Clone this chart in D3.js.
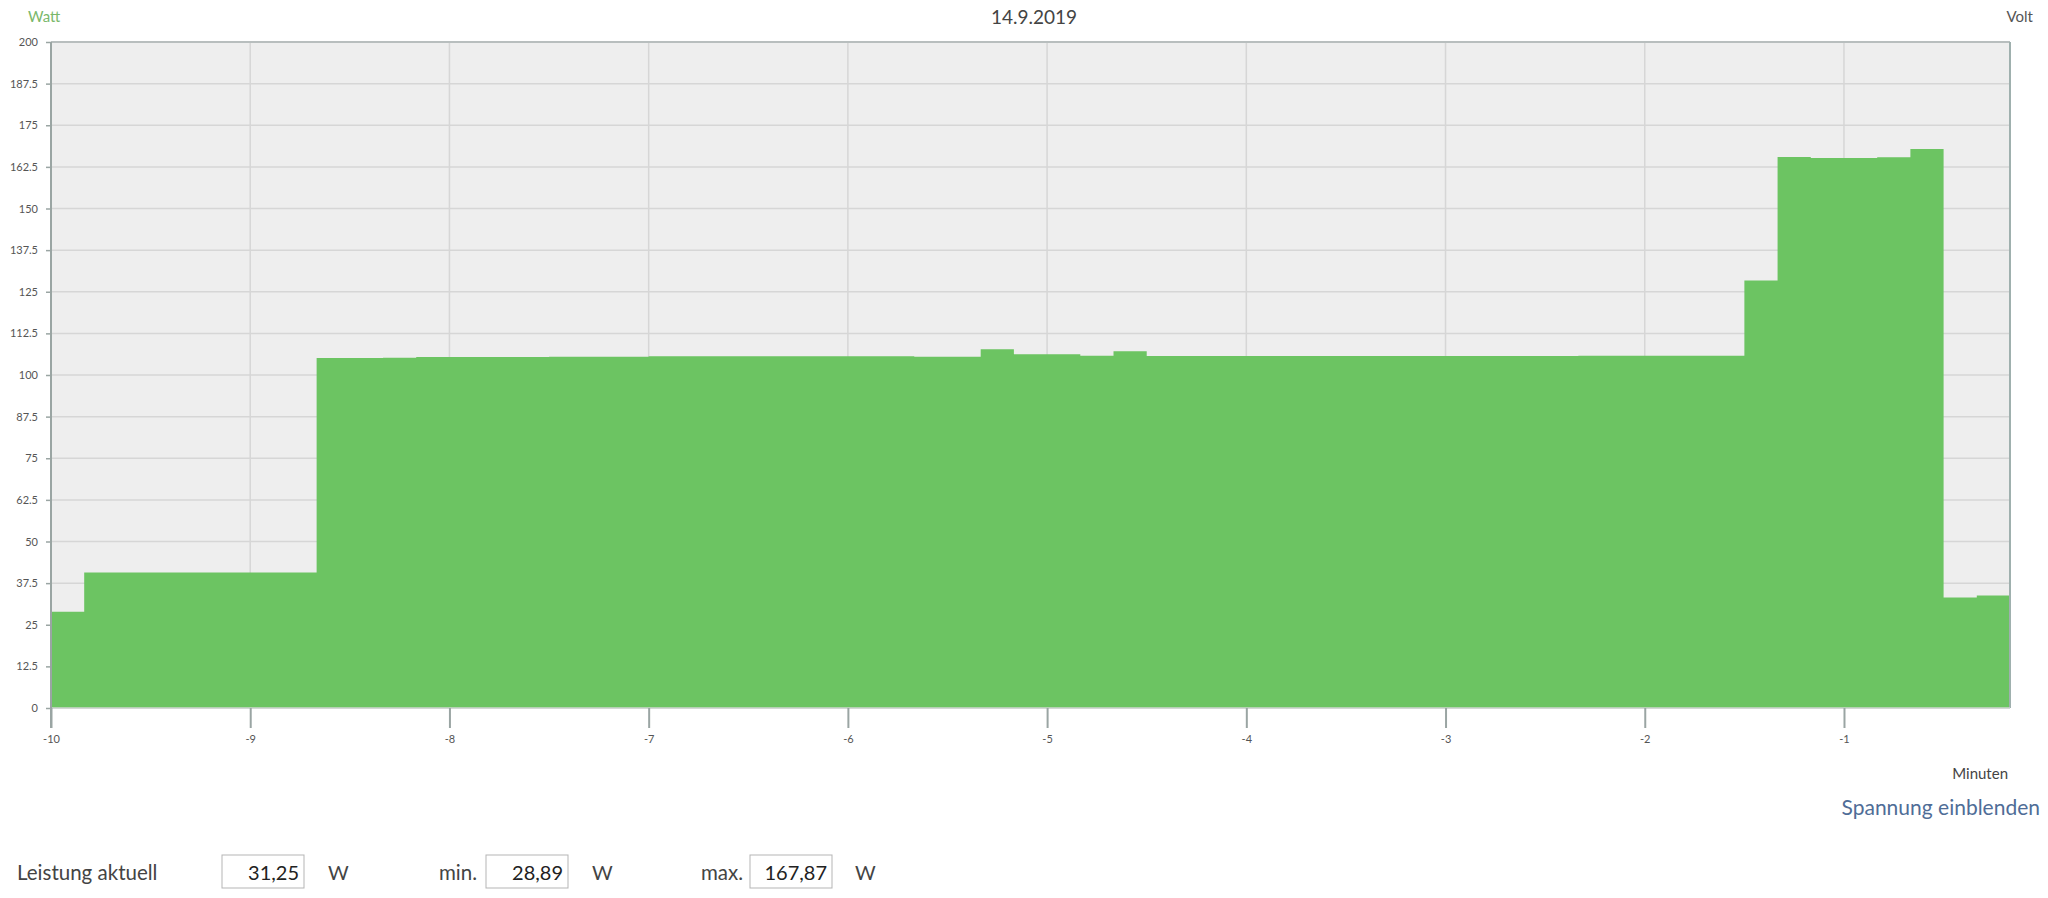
<!DOCTYPE html>
<html>
<head>
<meta charset="utf-8">
<script src="https://cdn.jsdelivr.net/npm/d3@7"></script>
<style>
  body { margin: 0; background: #fff; font-family: Lato, "Open Sans", sans-serif; }
</style>
</head>
<body>
<div id="chart"></div>
<script>
// Leistung in Watt, ein Wert je 10 Sekunden, von -10 min bis -1/6 min
var startMinute = -10;
var stepMinutes = 1 / 6;
var watts = [
    28.89,
    40.7, 40.7, 40.7, 40.7, 40.7, 40.7, 40.7,
    105.1, 105.1, 105.2, 105.4, 105.4, 105.4, 105.4, 105.5, 105.5, 105.5,
    105.6, 105.6, 105.6, 105.6, 105.6, 105.6, 105.6, 105.6, 105.5, 105.5,
    107.7, 106.2, 106.2, 105.8, 107.1,
    105.7, 105.7, 105.7, 105.7, 105.7, 105.7, 105.7, 105.7, 105.7,
    105.7, 105.7, 105.7, 105.7, 105.8, 105.8, 105.8, 105.8, 105.8,
    128.4, 165.5, 165.2, 165.2, 165.4, 167.87,
    33.2, 33.8
];
var yTicks = [0, 12.5, 25, 37.5, 50, 62.5, 75, 87.5, 100, 112.5, 125, 137.5, 150, 162.5, 175, 187.5, 200];
var xTicks = [-10, -9, -8, -7, -6, -5, -4, -3, -2, -1];
var summaryLabels = ["Leistung aktuell", "min.", "max."];
var summaryValues = ["31,25", "28,89", "167,87"];

var width = 2048,
    height = 898,
    margin = { top: 42, right: 38, bottom: 190, left: 51 },
    plotW = width - margin.left - margin.right,
    plotH = height - margin.top - margin.bottom;

var points = watts.map(function (v, i) { return { t: startMinute + i * stepMinutes, w: v }; });
// letzter Wert bis zum Ende der Achse verlaengern
points.push({ t: startMinute + watts.length * stepMinutes, w: watts[watts.length - 1] });

var x = d3.scaleLinear()
    .domain([startMinute, startMinute + watts.length * stepMinutes])
    .range([0, plotW]);

var y = d3.scaleLinear()
    .domain([0, 200])
    .range([plotH, 0]);

var svg = d3.select("#chart").append("svg")
    .attr("width", width)
    .attr("height", height);

var g = svg.append("g")
    .attr("transform", "translate(" + margin.left + "," + margin.top + ")");

g.append("rect")
    .attr("width", plotW)
    .attr("height", plotH)
    .attr("fill", "#eeeeee");

// Gitter
g.selectAll(".hgrid").data(yTicks).enter().append("line")
    .attr("x1", 0).attr("x2", plotW)
    .attr("y1", function (d) { return y(d); })
    .attr("y2", function (d) { return y(d); })
    .attr("stroke", "#d6d6d6")
    .attr("stroke-width", 1.5);

g.selectAll(".vgrid").data(xTicks.slice(1)).enter().append("line")
    .attr("y1", 0).attr("y2", plotH)
    .attr("x1", function (d) { return x(d); })
    .attr("x2", function (d) { return x(d); })
    .attr("stroke", "#d6d6d6")
    .attr("stroke-width", 1.5);

var area = d3.area()
    .curve(d3.curveStepAfter)
    .x(function (d) { return x(d.t); })
    .y0(y(0))
    .y1(function (d) { return y(d.w); });

g.append("path")
    .datum(points)
    .attr("d", area)
    .attr("fill", "#6cc462");

// Rahmen oben / rechts
g.append("line")
    .attr("x1", 0).attr("x2", plotW).attr("y1", 0).attr("y2", 0)
    .attr("stroke", "#b8bebe").attr("stroke-width", 2);
g.append("line")
    .attr("x1", plotW).attr("x2", plotW).attr("y1", 0).attr("y2", plotH)
    .attr("stroke", "#9fb0ae").attr("stroke-width", 2);
g.append("line")
    .attr("x1", 0).attr("x2", plotW).attr("y1", plotH).attr("y2", plotH)
    .attr("stroke", "#cfd6d2").attr("stroke-width", 1.5);

// Y-Achse
var yAxis = d3.axisLeft(y)
    .tickValues(yTicks)
    .tickSize(5)
    .tickPadding(8)
    .tickFormat(function (d) { return String(d); });

var ya = g.append("g").call(yAxis);
ya.select(".domain").remove();
ya.selectAll("line").attr("stroke", "#9aa5a3").attr("stroke-width", 1.5);
ya.selectAll("text").attr("fill", "#555").style("font-size", "11px").style("font-family", "Lato, sans-serif");

g.append("line")
    .attr("x1", 0).attr("x2", 0).attr("y1", 0).attr("y2", plotH + 20)
    .attr("stroke", "#9aa5a3").attr("stroke-width", 2);

// X-Achse
var xAxis = d3.axisBottom(x)
    .tickValues(xTicks)
    .tickSize(20)
    .tickPadding(7)
    .tickFormat(function (d) { return String(d); });

var xa = g.append("g")
    .attr("transform", "translate(0," + plotH + ")")
    .call(xAxis);
xa.select(".domain").remove();
xa.selectAll("line").attr("stroke", "#9aa5a3").attr("stroke-width", 2);
xa.selectAll("text").attr("fill", "#555").style("font-size", "11px").style("font-family", "Lato, sans-serif");

// Beschriftungen
svg.append("text")
    .attr("x", 28).attr("y", 22)
    .attr("fill", "#7ab86b")
    .style("font-size", "15px")
    .text("Watt");

svg.append("text")
    .attr("x", 1034).attr("y", 24)
    .attr("text-anchor", "middle")
    .attr("fill", "#444")
    .style("font-size", "19px")
    .text("14.9.2019");

svg.append("text")
    .attr("x", 2033).attr("y", 22)
    .attr("text-anchor", "end")
    .attr("fill", "#555")
    .style("font-size", "15px")
    .text("Volt");

svg.append("text")
    .attr("x", 2008).attr("y", 779)
    .attr("text-anchor", "end")
    .attr("fill", "#444")
    .style("font-size", "15px")
    .text("Minuten");

svg.append("text")
    .attr("x", 2040).attr("y", 815)
    .attr("text-anchor", "end")
    .attr("fill", "#4f6d97")
    .style("font-size", "21px")
    .text("Spannung einblenden");

// Leistung aktuell / min / max
var labelX = [17, 439, 701],
    boxX = [222, 486, 750],
    unitX = [328, 592, 855];

var row = svg.append("g");
summaryLabels.forEach(function (lab, i) {
    row.append("text")
        .attr("x", labelX[i]).attr("y", 880)
        .attr("fill", "#444")
        .style("font-size", "20.5px")
        .text(lab);
    row.append("rect")
        .attr("x", boxX[i]).attr("y", 855)
        .attr("width", 82).attr("height", 33)
        .attr("fill", "#fff")
        .attr("stroke", "#b5b5b5");
    row.append("text")
        .attr("x", boxX[i] + 77).attr("y", 880)
        .attr("text-anchor", "end")
        .attr("fill", "#222")
        .style("font-size", "20px")
        .text(summaryValues[i]);
    row.append("text")
        .attr("x", unitX[i]).attr("y", 880)
        .attr("fill", "#444")
        .style("font-size", "20px")
        .text("W");
});
</script>
</body>
</html>
